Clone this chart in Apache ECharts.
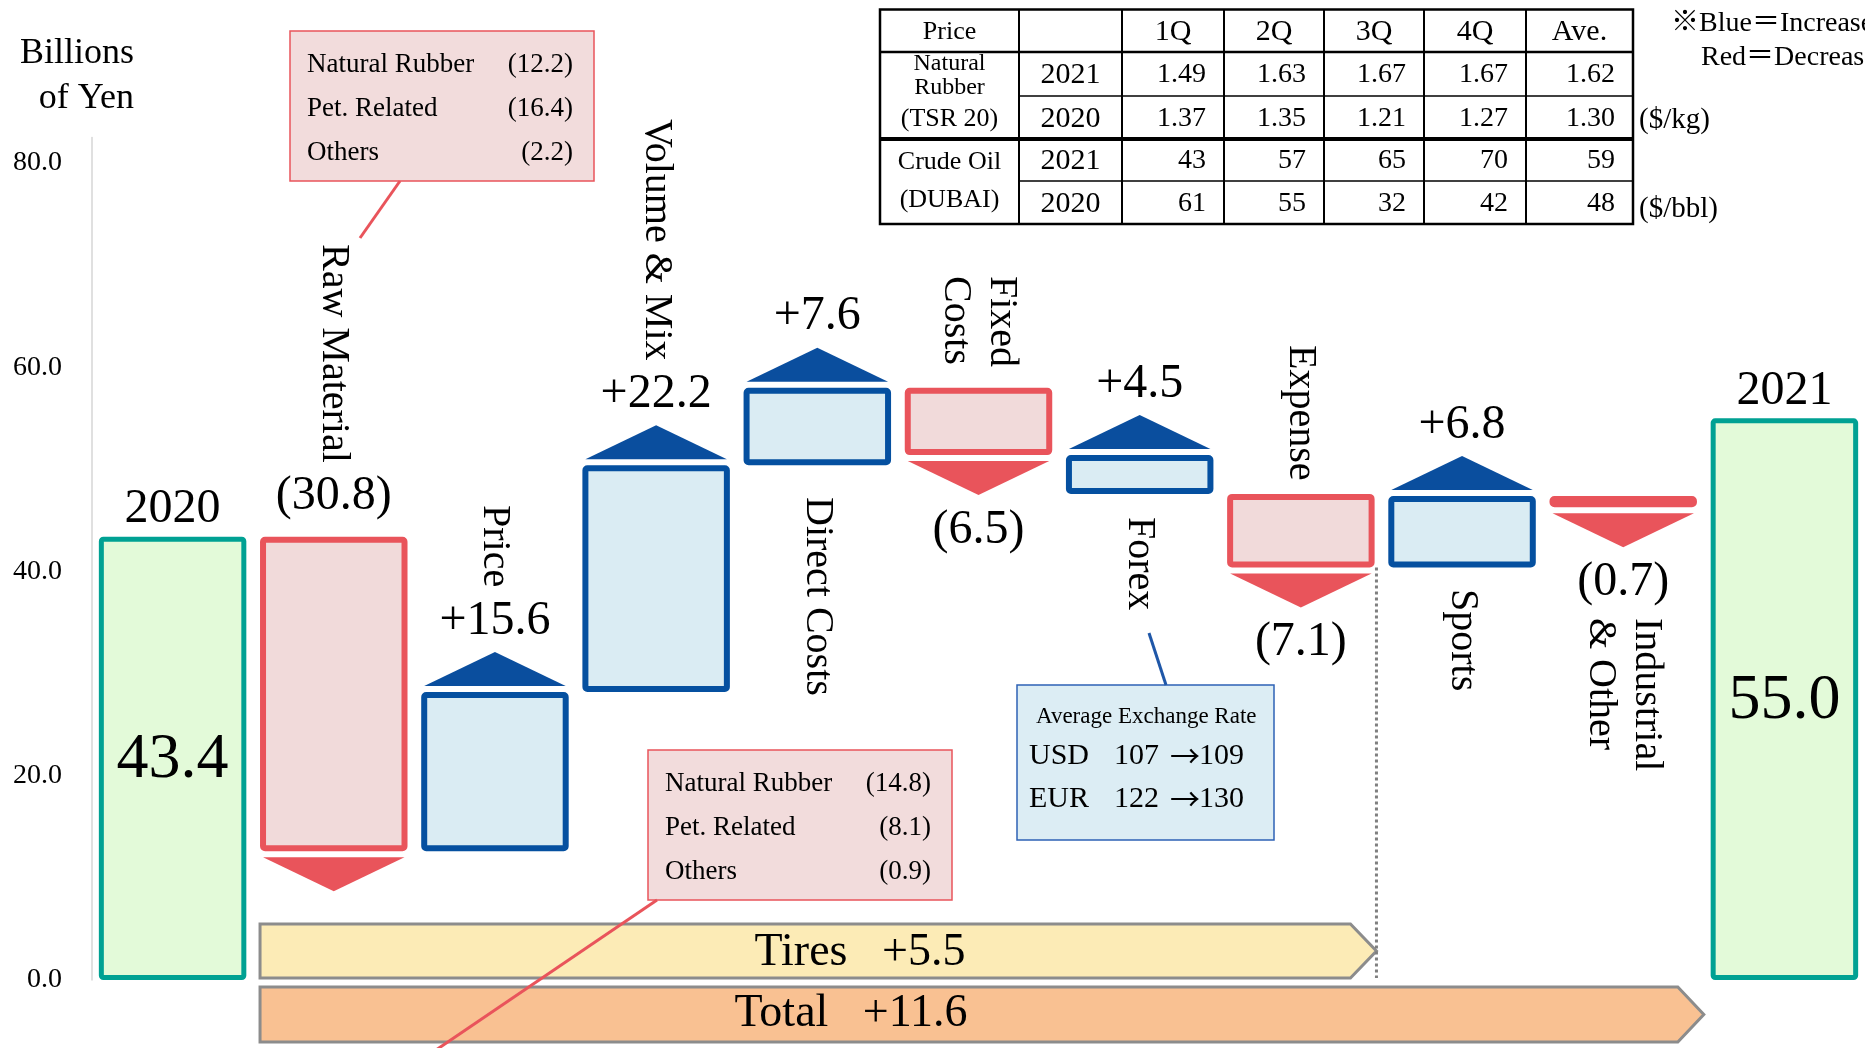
<!DOCTYPE html>
<html>
<head>
<meta charset="utf-8">
<script src="https://cdn.jsdelivr.net/npm/echarts@6/dist/echarts.min.js"></script>
<style>
html, body { margin: 0; padding: 0; background: #fff; }
#main { width: 1865px; height: 1048px; }
</style>
</head>
<body>
<div id="main"></div>
<script>
const SERIF = '"Liberation Serif", "Times New Roman", "Noto Sans CJK JP", serif'

// operating income bridge, billions of yen
const categories = ['2020', 'Raw Material', 'Price', 'Volume & Mix', 'Direct Costs', 'Fixed\nCosts', 'Forex', 'Expense', 'Sports', 'Industrial\n& Other', '2021']
const changes = [43.4, -30.8, 15.6, 22.2, 7.6, -6.5, 4.5, -7.1, 6.8, -0.7, 55.0]
// bar extents as they are drawn on the slide (not strictly to scale after Fixed Costs)
const barLow = [0, 12.6, 12.6, 28.2, 50.4, 51.4, 47.6, 40.4, 40.4, 46.3, 0]
const barHigh = [43.4, 43.4, 28.2, 50.4, 58.0, 58.0, 51.4, 47.6, 47.4, 47.4, 55.0]
const barKind = ['total', 'down', 'up', 'up', 'up', 'down', 'up', 'down', 'up', 'down', 'total']

// raw material breakdowns
const rawItems = ['Natural Rubber', 'Pet. Related', 'Others']
const rawCostValues = ['(12.2)', '(16.4)', '(2.2)']
const rawPriceValues = ['(14.8)', '(8.1)', '(0.9)']

// price table
const quarters = ['1Q', '2Q', '3Q', '4Q', 'Ave.']
const rubber2021 = ['1.49', '1.63', '1.67', '1.67', '1.62']
const rubber2020 = ['1.37', '1.35', '1.21', '1.27', '1.30']
const oil2021 = ['43', '57', '65', '70', '59']
const oil2020 = ['61', '55', '32', '42', '48']

// exchange rates
const fxCurrencies = ['USD', 'EUR']
const fx2020 = [107, 122]
const fx2021 = [109, 130]

// segment totals
const segmentNames = ['Tires', 'Total']
const segmentValues = ['+5.5', '+11.6']

// layout only
const nameTopPx = [null, 244, 505, 119, 497, 276, 517, 345, 589, 618, null]
const labelAboveBar = [1]

const palette = {
  total: { fill: '#E3FAD9', stroke: '#00A193', lw: 5 },
  up: { fill: '#DAECF3', stroke: '#0550A0', lw: 6, tri: '#0A4E9E' },
  down: { fill: '#F1DADA', stroke: '#E9545B', lw: 6, tri: '#E9545B' }
}

const fmt = (v, kind) => {
  if (kind === 'total') return v.toFixed(1)
  return v < 0 ? '(' + Math.abs(v).toFixed(1) + ')' : '+' + v.toFixed(1)
}

const txt = (x, y, s, size, align, extra) => Object.assign({
  type: 'text', x, y, z: 100,
  style: { text: s, font: size + 'px ' + SERIF, fill: '#000', align: align || 'center', verticalAlign: 'middle' }
}, extra || {})

const line = (x1, y1, x2, y2, color, lw, dash) => ({
  type: 'line', z: 100,
  shape: { x1, y1, x2, y2 },
  style: { stroke: color, lineWidth: lw, lineDash: dash || null }
})

function renderStep(params, api) {
  const i = api.value(0)
  const top = api.coord([i, api.value(2)])
  const bot = api.coord([i, api.value(1)])
  const band = api.size([1, 0])[0]
  const w = band * 0.915
  const cx = top[0]
  const kind = barKind[i]
  const p = palette[kind]
  const h = p.lw / 2
  const children = [{
    type: 'rect',
    shape: { x: cx - w / 2 + h, y: top[1] + h, width: w - p.lw, height: Math.max(bot[1] - top[1] - p.lw, 0.5), r: 2 },
    style: { fill: p.fill, stroke: p.stroke, lineWidth: p.lw }
  }]
  const label = fmt(changes[i], kind)
  if (kind === 'total') {
    children.push(txt(cx, top[1] - 27, categories[i], 48))
    children.push(txt(cx, (top[1] + bot[1]) / 2 + 2, label, 64))
  } else if (kind === 'up') {
    children.push({
      type: 'polygon',
      shape: { points: [[cx - w / 2 + 3, top[1] - 6], [cx + w / 2 - 3, top[1] - 6], [cx, top[1] - 40]] },
      style: { fill: p.tri }
    })
    children.push(txt(cx, top[1] - 71, label, 48))
  } else {
    children.push({
      type: 'polygon',
      shape: { points: [[cx - w / 2 + 3, bot[1] + 6], [cx + w / 2 - 3, bot[1] + 6], [cx, bot[1] + 40]] },
      style: { fill: p.tri }
    })
    const ly = labelAboveBar.includes(i) ? top[1] - 40 : bot[1] + 75
    children.push(txt(cx, ly, label, 48))
  }
  if (nameTopPx[i] != null) {
    children.push(txt(cx, nameTopPx[i], categories[i], 40, 'left', { rotation: -Math.PI / 2 }))
    children[children.length - 1].style.lineHeight = 46
  }
  return { type: 'group', children }
}

const chartDom = document.getElementById('main')
const myChart = echarts.init(chartDom)

const option = {
  animation: false,
  backgroundColor: '#fff',
  grid: { left: 92, right: 0, top: 137.5, bottom: 68, outerBoundsMode: 'none' },
  xAxis: { type: 'category', data: categories, show: false },
  yAxis: {
    type: 'value',
    min: 0,
    max: 82.5,
    interval: 20,
    splitLine: { show: false },
    axisTick: { show: false },
    axisLine: { show: true, lineStyle: { color: '#D6D6D6', width: 1.5 } },
    axisLabel: {
      margin: 30,
      color: '#000',
      fontSize: 28,
      fontFamily: SERIF,
      formatter: v => (v % 20 === 0 ? v.toFixed(1) : '')
    }
  },
  series: [{
    type: 'custom',
    clip: false,
    renderItem: renderStep,
    encode: { x: 0, y: [1, 2] },
    data: categories.map((c, i) => [i, barLow[i], barHigh[i]])
  }]
}
myChart.setOption(option)

// annotations: bands, callouts, table
const band = myChart.convertToPixel({ xAxisIndex: 0 }, 1) - myChart.convertToPixel({ xAxisIndex: 0 }, 0)
const left = myChart.convertToPixel({ xAxisIndex: 0 }, 1) - band * 0.915 / 2
const tiresTip = myChart.convertToPixel({ xAxisIndex: 0 }, 7) + band / 2 - 5
const totalTip = myChart.convertToPixel({ xAxisIndex: 0 }, 9) + band / 2
const expenseBottom = myChart.convertToPixel({ yAxisIndex: 0 }, barLow[7])

const arrowBand = (x0, tip, y0, y1, fill) => ({
  type: 'polygon', z: 90,
  shape: { points: [[x0, y0], [tip - 26, y0], [tip, (y0 + y1) / 2], [tip - 26, y1], [x0, y1]] },
  style: { fill, stroke: '#8C8C8C', lineWidth: 3 }
})

const g = []
g.push(txt(134, 54, 'Billions', 36, 'right'))
g.push(txt(134, 99, 'of Yen', 36, 'right'))

// segment bands
g.push(arrowBand(left, tiresTip, 924, 978, '#FCEBB6'))
g.push(arrowBand(left, totalTip, 987, 1042, '#F9C192'))
g.push(txt(left + 600, 953, segmentNames[0] + '   ' + segmentValues[0], 46))
g.push(txt(left + 591, 1014, segmentNames[1] + '   ' + segmentValues[1], 46))
g.push(line(tiresTip, expenseBottom, tiresTip, 978, '#7F7F7F', 3, [3, 3]))

// callout boxes
const callout = (x, y, vals) => {
  g.push({ type: 'rect', z: 95, shape: { x, y, width: 304, height: 150 }, style: { fill: '#F2DCDC', stroke: '#E9545B', lineWidth: 1.5 } })
  rawItems.forEach((n, k) => {
    g.push(txt(x + 17, y + 34 + k * 44, n, 27, 'left'))
    g.push(txt(x + 283, y + 34 + k * 44, vals[k], 27, 'right'))
  })
}
g.push(line(400, 181, 360, 238, '#E9545B', 3))
callout(290, 31, rawCostValues)
g.push(line(657, 900, 436, 1050, '#E9545B', 3))
callout(648, 750, rawPriceValues)

g.push(line(1166, 685, 1149, 633, '#1F57A8', 3))
g.push({ type: 'rect', z: 95, shape: { x: 1017, y: 685, width: 257, height: 155 }, style: { fill: '#DCEDF4', stroke: '#2E62B5', lineWidth: 1.5 } })
g.push(txt(1036, 717, 'Average Exchange Rate', 23, 'left'))
fxCurrencies.forEach((c, k) => {
  const y = 756 + k * 43
  g.push(txt(1029, y, c, 30, 'left'))
  g.push(txt(1114, y, String(fx2020[k]), 30, 'left'))
  g.push(txt(1170, y, '\u2192', 30, 'left', { style: { text: '\u2192', font: '30px "Noto Sans CJK JP", sans-serif', fill: '#000', align: 'left', verticalAlign: 'middle' } }))
  g.push(txt(1199, y, String(fx2021[k]), 30, 'left'))
})

// price table
const colX = [880, 1019, 1122, 1224, 1324, 1424, 1526, 1633]
const rowY = [9.5, 52, 96, 139, 181, 224]
g.push({ type: 'rect', z: 95, shape: { x: colX[0], y: rowY[0], width: colX[7] - colX[0], height: rowY[5] - rowY[0] }, style: { fill: '#fff', stroke: '#000', lineWidth: 2.5 } })
colX.slice(1, 7).forEach(x => g.push(line(x, rowY[0], x, rowY[5], '#000', 2)))
g.push(line(colX[0], rowY[1], colX[7], rowY[1], '#000', 2.5))
g.push(line(colX[1], rowY[2], colX[7], rowY[2], '#000', 1.5))
g.push(line(colX[0], rowY[3], colX[7], rowY[3], '#000', 4))
g.push(line(colX[1], rowY[4], colX[7], rowY[4], '#000', 1.5))
const c0 = (colX[0] + colX[1]) / 2
const c1 = (colX[1] + colX[2]) / 2
g.push(txt(c0, 32, 'Price', 26))
quarters.forEach((q, k) => g.push(txt((colX[k + 2] + colX[k + 3]) / 2, 32, q, 30)))
g.push(txt(c0, 64, 'Natural', 24))
g.push(txt(c0, 88, 'Rubber', 24))
g.push(txt(c0, 119, '(TSR 20)', 26))
g.push(txt(c0, 162, 'Crude Oil', 26))
g.push(txt(c0, 200, '(DUBAI)', 26))
const rowsData = [rubber2021, rubber2020, oil2021, oil2020]
const rowYears = ['2021', '2020', '2021', '2020']
rowsData.forEach((vals, r) => {
  const cy = [75, 119, 161, 204][r]
  g.push(txt(c1, cy, rowYears[r], 30))
  vals.forEach((v, k) => g.push(txt(colX[k + 3] - 18, cy, v, 28, 'right')))
})
g.push(txt(1639, 120, '($/kg)', 29, 'left'))
g.push(txt(1639, 209, '($/bbl)', 29, 'left'))
g.push(txt(1671, 24, '\u203BBlue\uFF1DIncrease', 28, 'left'))
g.push(txt(1701, 58, 'Red\uFF1DDecrease', 28, 'left'))

myChart.setOption({ graphic: g })
window.addEventListener('resize', () => {
  myChart.resize()
})
</script>
</body>
</html>
